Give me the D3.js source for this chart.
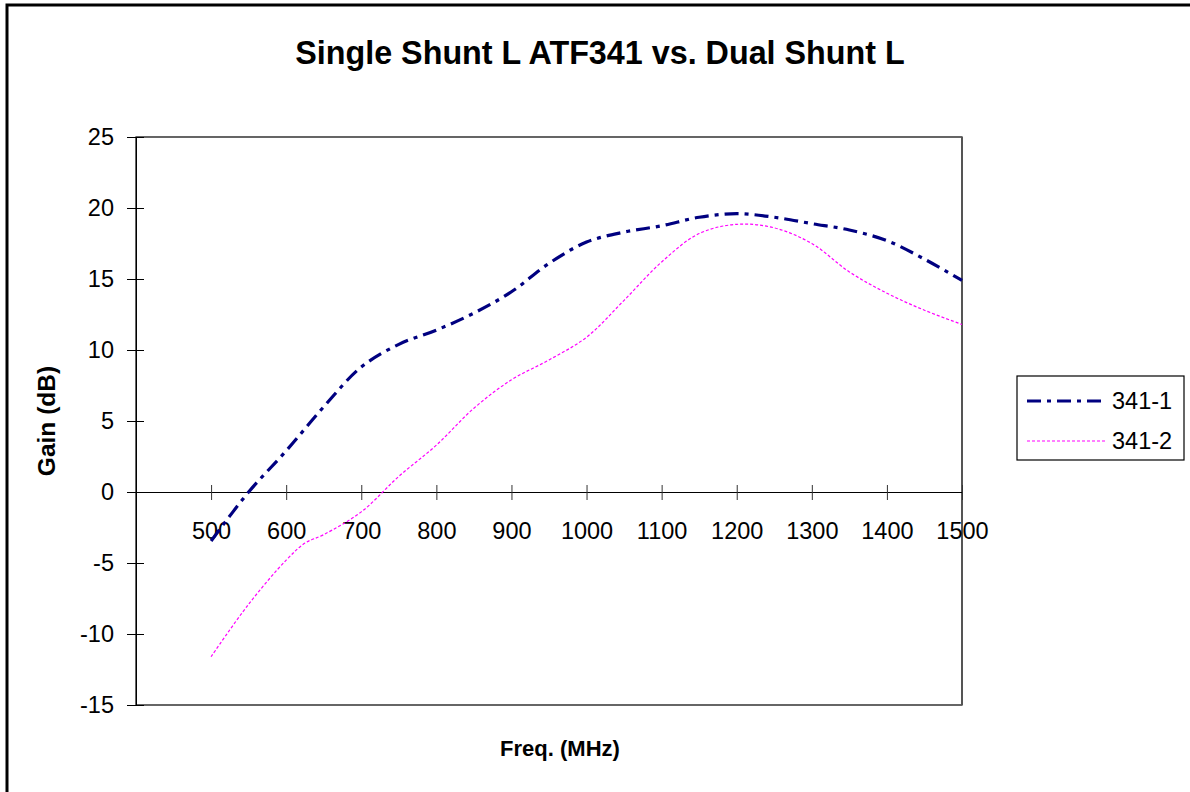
<!DOCTYPE html>
<html><head><meta charset="utf-8">
<script src="https://cdn.jsdelivr.net/npm/d3@7"></script>
<style>body{margin:0;background:#fff;}svg{display:block;font-family:"Liberation Sans",Arial,sans-serif;}</style>
</head><body>
<svg id="c" width="1190" height="792"></svg>
<script>
const title = "Single Shunt L ATF341 vs. Dual Shunt L";
const xTitle = "Freq. (MHz)";
const yTitle = "Gain (dB)";
const xTicks = [500,600,700,800,900,1000,1100,1200,1300,1400,1500];
const yTicks = [-15,-10,-5,0,5,10,15,20,25];
const seriesNames = ["341-1","341-2"];
const freq1 = [500,550,600,650,700,750,800,850,900,950,1000,1050,1100,1150,1200,1250,1300,1350,1400,1450,1500];
const gain1 = [-3.45,0.0,2.9,6.0,8.8,10.4,11.4,12.6,14.1,16.1,17.6,18.3,18.75,19.35,19.6,19.35,18.9,18.45,17.7,16.4,14.9];
const freq2 = [500,550,600,625,650,700,750,800,850,900,950,1000,1050,1100,1150,1200,1250,1300,1350,1400,1450,1500];
const gain2 = [-11.6,-7.9,-4.8,-3.6,-3.0,-1.4,1.1,3.3,5.9,7.9,9.3,10.9,13.5,16.2,18.2,18.85,18.6,17.5,15.5,14.0,12.8,11.8];

const svg = d3.select("#c");
const L=136, R=962, T=137, B=705;
const x = d3.scaleLinear().domain([400,1500]).range([L,R]);
const y = d3.scaleLinear().domain([-15,25]).range([B,T]);
const fmt = d => String(d);
const FONT = "Liberation Sans, Arial, sans-serif";

// outer frame
svg.append("rect").attr("x",7).attr("y",5).attr("width",1200).attr("height",800)
  .attr("fill","none").attr("stroke","#000").attr("stroke-width",3);

// title
svg.append("text").attr("x",600).attr("y",64).attr("text-anchor","middle")
  .attr("font-size",32.3).attr("font-weight","bold").text(title);

// plot area border
svg.append("rect").attr("x",L).attr("y",T).attr("width",R-L).attr("height",B-T)
  .attr("fill","none").attr("stroke","#000").attr("stroke-width",1.2);
svg.append("line").attr("x1",R).attr("x2",R).attr("y1",T).attr("y2",B).attr("stroke","#555").attr("stroke-width",2);

// y axis
const yAxis = d3.axisLeft(y).tickValues(yTicks).tickFormat(fmt).tickSize(0).tickPadding(22);
const gy = svg.append("g").attr("transform",`translate(${L},0)`).call(yAxis)
  .attr("font-size",23.5).attr("font-family",FONT);
gy.select(".domain").attr("stroke","#000");
gy.selectAll(".tick text").attr("fill","#000");
gy.selectAll(".tick").append("line").attr("x1",-9).attr("x2",8).attr("stroke","#000");

// x axis at y=0
const xAxis = d3.axisBottom(x).tickValues(xTicks).tickFormat(fmt).tickSize(0).tickPadding(30);
const gx = svg.append("g").attr("transform",`translate(0,${y(0)})`).call(xAxis)
  .attr("font-size",23.5).attr("font-family",FONT);
gx.select(".domain").attr("stroke","#000").attr("stroke-width",1.2);
gx.selectAll(".tick text").attr("fill","#000");
gx.selectAll(".tick").append("line").attr("y1",-7).attr("y2",8).attr("stroke","#333");

// axis titles
svg.append("text").attr("x",560).attr("y",756).attr("text-anchor","middle")
  .attr("font-size",22).attr("font-weight","bold").text(xTitle);
svg.append("text").attr("transform",`translate(55,421) rotate(-90)`).attr("text-anchor","middle")
  .attr("font-size",24.5).attr("font-weight","bold").text(yTitle);

// lines
const line = d3.line().x(d=>x(d[0])).y(d=>y(d[1])).curve(d3.curveCatmullRom.alpha(0.5));
const d2 = freq2.map((f,i)=>[f,gain2[i]]);
const d1 = freq1.map((f,i)=>[f,gain1[i]]);
svg.append("path").datum(d2).attr("d",line).attr("fill","none")
  .attr("stroke","#FF00FF").attr("stroke-width",1.2).attr("stroke-dasharray","3,2");
svg.append("path").datum(d1).attr("d",line).attr("fill","none")
  .attr("stroke","#000080").attr("stroke-width",3.2).attr("stroke-dasharray","14,6,4,6");

// legend
const lg = svg.append("g");
lg.append("rect").attr("x",1017).attr("y",376).attr("width",167).attr("height",84)
  .attr("fill","#fff").attr("stroke","#000").attr("stroke-width",1.2);
const styles = [{c:"#000080",w:3.2,da:"14,6,4,6"},{c:"#FF00FF",w:1.2,da:"3,2"}];
seriesNames.forEach((n,i)=>{
  const yy = 401 + i*40;
  lg.append("line").attr("x1",1027).attr("x2",1107).attr("y1",yy).attr("y2",yy)
    .attr("stroke",styles[i].c).attr("stroke-width",styles[i].w).attr("stroke-dasharray",styles[i].da);
  lg.append("text").attr("x",1112).attr("y",yy+8).attr("font-size",23.5).text(n);
});
</script>
</body></html>
